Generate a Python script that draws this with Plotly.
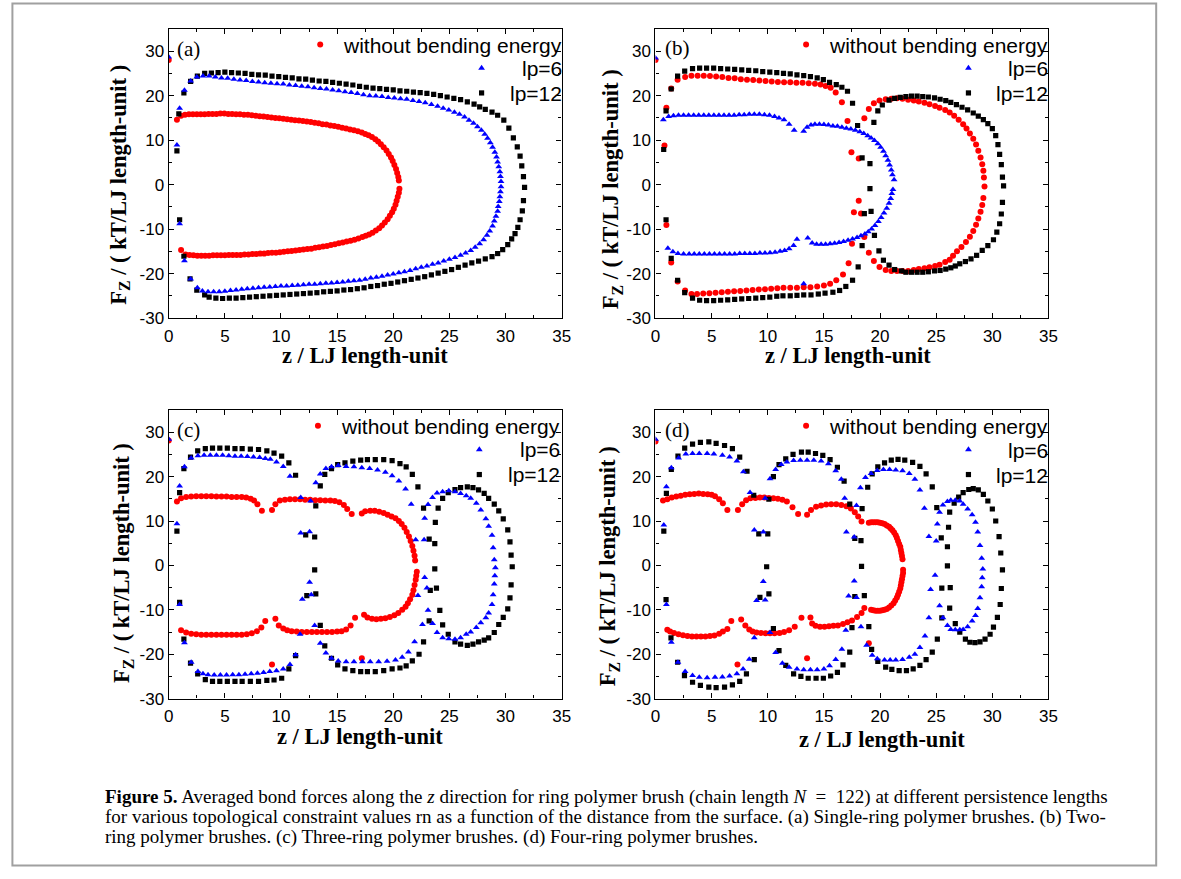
import plotly.graph_objects as go

# ---------------- data: (z, Fz) pairs ----------------
A_RED = [(0.0,28.0),(0.73,14.6),(1.1,15.5),(1.45,15.7),(1.8,15.8),(2.15,15.8),(2.5,15.8),(2.85,15.8),(3.2,15.8),(3.55,15.9),(3.9,15.9),(4.25,15.9),(4.6,16.0),(4.95,16.0),(5.3,15.9),(5.65,15.9),(6.0,15.8),(6.35,15.8),(6.7,15.7),(7.05,15.7),(7.4,15.6),(7.75,15.5),(8.1,15.4),(8.45,15.3),(8.8,15.2),(9.15,15.1),(9.5,15.0),(9.85,14.9),(10.2,14.8),(10.55,14.7),(10.9,14.6),(11.25,14.5),(11.6,14.4),(11.95,14.3),(12.3,14.2),(12.65,14.1),(13.0,13.9),(13.35,13.8),(13.7,13.6),(14.05,13.5),(14.4,13.3),(14.75,13.2),(15.1,13.0),(15.45,12.8),(15.8,12.6),(16.15,12.4),(16.5,12.2),(16.85,12.0),(17.2,11.7),(17.5,11.4),(17.8,11.1),(18.1,10.7),(18.4,10.2),(18.65,9.7),(18.9,9.1),(19.15,8.4),(19.4,7.7),(19.6,6.9),(19.8,6.1),(19.95,5.3),(20.1,4.4),(20.25,3.5),(20.35,2.6),(20.45,1.7),(20.5,0.9),
         (20.55,-0.9),(20.5,-1.8),(20.4,-2.7),(20.3,-3.6),(20.2,-4.5),(20.05,-5.4),(19.9,-6.2),(19.7,-7.0),(19.5,-7.8),(19.25,-8.5),(19.0,-9.2),(18.75,-9.8),(18.45,-10.3),(18.15,-10.8),(17.85,-11.2),(17.55,-11.5),(17.25,-11.8),(16.9,-12.1),(16.55,-12.4),(16.2,-12.6),(15.85,-12.8),(15.5,-13.0),(15.15,-13.2),(14.8,-13.4),(14.45,-13.6),(14.1,-13.8),(13.75,-13.9),(13.4,-14.1),(13.05,-14.2),(12.7,-14.4),(12.35,-14.5),(12.0,-14.6),(11.65,-14.7),(11.3,-14.8),(10.95,-14.9),(10.6,-15.0),(10.25,-15.1),(9.9,-15.2),(9.55,-15.3),(9.2,-15.3),(8.85,-15.4),(8.5,-15.5),(8.15,-15.5),(7.8,-15.6),(7.45,-15.6),(7.1,-15.7),(6.75,-15.7),(6.4,-15.8),(6.05,-15.8),(5.7,-15.8),(5.35,-15.8),(5.0,-15.9),(4.65,-15.9),(4.3,-15.9),(3.95,-15.9),(3.6,-16.0),(3.25,-16.0),(2.9,-16.0),(2.55,-16.0),(2.2,-15.9),(1.85,-15.8),(1.5,-15.7),(1.1,-14.7)]

A_BLUE = [(0.0,28.7),(0.73,8.9),(0.97,17.2),(1.4,21.2),(1.95,23.3),(2.5,24.2),(3.05,24.4),(3.6,24.4),(4.15,24.2),(4.7,24.0),(5.25,23.9),(5.8,23.7),(6.35,23.5),(6.9,23.4),(7.45,23.2),(8.0,23.1),(8.55,22.9),(9.1,22.8),(9.65,22.7),(10.2,22.6),(10.75,22.4),(11.3,22.3),(11.85,22.1),(12.4,22.0),(12.95,21.8),(13.5,21.6),(14.05,21.5),(14.6,21.3),(15.15,21.1),(15.7,20.9),(16.25,20.7),(16.8,20.5),(17.35,20.2),(17.9,20.0),(18.45,19.9),(19.0,19.8),(19.55,19.6),(20.1,19.5),(20.65,19.3),(21.2,19.2),(21.75,18.9),(22.3,18.7),(22.85,18.4),(23.4,18.0),(23.95,17.6),(24.45,17.2),(24.95,16.8),(25.45,16.3),(25.9,15.8),(26.35,15.2),(26.75,14.5),(27.15,13.8),(27.5,13.0),(27.85,12.2),(28.15,11.3),(28.4,10.4),(28.65,9.4),(28.85,8.4),(29.05,7.3),(29.2,6.2),(29.3,5.1),(29.4,4.0),(29.5,2.9),(29.55,1.8),(29.6,0.7),
          (29.6,-0.5),(29.55,-1.6),(29.5,-2.7),(29.45,-3.8),(29.35,-4.9),(29.3,-6.0),(29.15,-7.1),(29.0,-8.2),(28.85,-9.3),(28.6,-10.4),(28.35,-11.4),(28.05,-12.4),(27.7,-13.3),(27.3,-14.1),(26.9,-14.8),(26.45,-15.4),(26.0,-15.9),(25.5,-16.4),(25.0,-16.8),(24.5,-17.2),(24.0,-17.6),(23.5,-17.9),(23.0,-18.3),(22.5,-18.6),(22.0,-18.9),(21.5,-19.3),(21.0,-19.6),(20.5,-19.8),(20.0,-20.1),(19.5,-20.3),(19.0,-20.6),(18.5,-20.8),(18.0,-21.0),(17.5,-21.3),(17.0,-21.5),(16.5,-21.6),(16.0,-21.7),(15.5,-21.9),(15.0,-22.0),(14.5,-22.1),(14.0,-22.2),(13.5,-22.3),(13.0,-22.4),(12.5,-22.4),(12.0,-22.5),(11.5,-22.6),(11.0,-22.7),(10.5,-22.8),(10.0,-22.8),(9.5,-22.9),(9.0,-23.0),(8.5,-23.1),(8.0,-23.2),(7.5,-23.3),(7.0,-23.4),(6.5,-23.5),(6.0,-23.7),(5.5,-23.8),(5.0,-24.0),(4.5,-24.1),(4.0,-24.1),(3.5,-24.1),(3.0,-23.9),(2.55,-23.2),(1.95,-21.2),(1.4,-17.1),(0.97,-8.8)]

A_BLACK = [(0.73,7.6),(0.9,15.9),(1.35,20.6),(1.95,23.2),(2.55,24.4),(3.2,25.0),(3.8,25.1),(4.4,25.2),(5.0,25.3),(5.6,25.2),(6.2,25.1),(6.8,25.0),(7.4,24.8),(8.0,24.7),(8.6,24.6),(9.2,24.4),(9.8,24.3),(10.4,24.1),(11.0,24.0),(11.6,23.8),(12.2,23.7),(12.8,23.5),(13.4,23.3),(14.0,23.2),(14.6,23.0),(15.2,22.8),(15.8,22.6),(16.4,22.4),(17.0,22.1),(17.6,21.9),(18.2,21.7),(18.8,21.6),(19.4,21.4),(20.0,21.3),(20.6,21.1),(21.2,21.0),(21.8,20.8),(22.4,20.7),(23.0,20.5),(23.6,20.3),(24.2,20.0),(24.8,19.7),(25.4,19.4),(26.0,19.1),(26.6,18.6),(27.2,18.1),(27.7,17.5),(28.2,16.9),(28.8,16.3),(29.3,15.6),(29.85,14.5),(30.3,12.7),(30.7,10.5),(31.05,8.5),(31.3,6.4),(31.45,4.2),(31.6,1.8),
           (31.7,-0.6),(31.6,-3.6),(31.5,-5.9),(31.3,-7.9),(31.1,-9.6),(30.85,-11.0),(30.55,-12.2),(30.2,-13.5),(29.75,-14.6),(29.3,-15.5),(28.8,-16.2),(28.2,-16.7),(27.6,-17.2),(27.0,-17.6),(26.4,-18.1),(25.8,-18.6),(25.2,-19.1),(24.6,-19.5),(24.0,-19.9),(23.4,-20.3),(22.8,-20.7),(22.2,-21.0),(21.6,-21.3),(21.0,-21.6),(20.4,-21.9),(19.8,-22.2),(19.2,-22.4),(18.6,-22.7),(18.0,-22.9),(17.4,-23.2),(16.8,-23.4),(16.2,-23.6),(15.6,-23.7),(15.0,-23.9),(14.4,-24.0),(13.8,-24.1),(13.2,-24.3),(12.6,-24.4),(12.0,-24.5),(11.4,-24.6),(10.8,-24.7),(10.2,-24.8),(9.6,-24.9),(9.0,-25.0),(8.4,-25.1),(7.8,-25.2),(7.2,-25.3),(6.6,-25.4),(6.0,-25.5),(5.4,-25.5),(4.8,-25.6),(4.2,-25.5),(3.6,-25.3),(3.2,-24.8),(2.5,-23.7),(1.9,-21.2),(1.35,-16.1),(0.97,-7.9)]

B_RED = [(0.0,28.0),(0.8,8.8),(0.97,17.3),(1.4,21.6),(1.97,23.6),(2.64,24.2),(3.2,24.5),(3.75,24.5),(4.3,24.5),(4.85,24.4),(5.4,24.3),(5.95,24.2),(6.5,24.0),(7.05,23.9),(7.6,23.7),(8.15,23.6),(8.7,23.5),(9.25,23.4),(9.8,23.3),(10.35,23.2),(10.9,23.1),(11.45,23.0),(12.0,23.0),(12.55,22.9),(13.1,22.9),(13.65,22.8),(14.2,22.7),(14.7,22.5),(15.15,22.2),(15.6,21.8),(16.05,20.7),(16.6,18.5),(17.1,14.3),(17.45,7.3),(18.1,5.9),
         (18.1,-3.6),(17.67,-6.2),(18.3,-6.5),
         (18.6,14.9),(19.0,17.0),(19.45,18.3),(19.95,18.9),(20.5,19.2),(21.0,19.3),(21.5,19.4),(22.0,19.3),(22.5,19.1),(23.0,18.9),(23.45,18.7),(23.95,18.4),(24.4,18.1),(24.9,17.7),(25.3,17.3),(25.8,16.8),(26.2,16.2),(26.6,15.5),(27.0,14.6),(27.4,13.6),(27.7,12.6),(28.0,11.5),(28.3,10.3),(28.55,9.0),(28.75,7.6),(28.95,6.1),(29.1,4.6),(29.2,3.1),(29.25,1.6),(29.3,-0.4),
         (29.2,-3.0),(29.1,-4.6),(28.95,-6.1),(28.75,-7.6),(28.55,-9.0),(28.3,-10.4),(28.0,-11.7),(27.65,-12.9),(27.25,-14.0),(26.85,-15.0),(26.5,-16.0),(26.2,-16.9),(25.8,-17.4),(25.3,-18.0),(24.9,-18.3),(24.4,-18.6),(23.95,-18.8),(23.45,-19.0),(23.0,-19.2),(22.5,-19.4),(22.0,-19.4),(21.5,-19.4),(21.0,-19.4),(20.5,-19.2),(19.95,-18.5),(19.45,-17.2),(19.0,-15.3),(18.6,-11.8),
         (17.5,-13.3),(17.2,-17.7),(16.7,-20.2),(16.1,-21.5),(15.55,-22.3),(15.0,-22.7),(14.4,-22.9),(13.8,-23.1),(13.2,-23.1),(12.6,-23.2),(12.0,-23.2),(11.4,-23.2),(10.85,-23.3),(10.3,-23.4),(9.75,-23.5),(9.2,-23.6),(8.65,-23.7),(8.1,-23.8),(7.55,-23.9),(7.0,-24.0),(6.45,-24.1),(5.9,-24.2),(5.35,-24.3),(4.8,-24.4),(4.25,-24.5),(3.7,-24.6),(3.2,-24.6),(2.64,-23.8),(1.97,-21.8),(1.4,-17.5),(0.97,-9.1)]

B_BLUE = [(0.0,28.5),(0.7,14.6),(1.17,15.3),(1.6,15.5),(2.05,15.6),(2.5,15.6),(2.95,15.6),(3.4,15.6),(3.85,15.6),(4.3,15.6),(4.75,15.6),(5.2,15.6),(5.65,15.6),(6.1,15.6),(6.55,15.6),(7.0,15.6),(7.45,15.7),(7.9,15.7),(8.35,15.8),(8.8,15.8),(9.25,15.8),(9.7,15.7),(10.15,15.6),(10.6,15.3),(11.0,15.0),(11.45,14.6),(11.9,13.6),(12.35,12.2),
          (13.2,12.0),(13.5,12.9),(13.85,13.4),(14.2,13.6),(14.6,13.6),(15.0,13.5),(15.4,13.4),(15.8,13.2),(16.2,13.1),(16.6,12.9),(17.0,12.7),(17.4,12.5),(17.8,12.2),(18.2,11.9),(18.55,11.5),(18.9,11.0),(19.2,10.5),(19.5,9.9),(19.8,9.2),(20.05,8.4),(20.3,7.5),(20.5,6.5),(20.7,5.5),(20.85,4.4),(21.0,3.3),(21.1,2.2),(21.25,1.1),
          (21.15,-1.1),(21.05,-2.0),(20.95,-3.1),(20.8,-4.2),(20.6,-5.3),(20.35,-6.4),(20.1,-7.4),(19.85,-8.3),(19.55,-9.2),(19.25,-10.0),(18.95,-10.6),(18.65,-11.1),(18.3,-11.5),(17.95,-11.9),(17.55,-12.2),(17.15,-12.5),(16.75,-12.8),(16.35,-13.0),(15.95,-13.2),(15.55,-13.3),(15.15,-13.4),(14.75,-13.4),(14.35,-13.4),(13.95,-13.1),(13.56,-12.0),
          (13.2,-22.3),
          (12.6,-12.3),(12.3,-13.7),(11.9,-14.4),(11.5,-14.8),(11.1,-15.0),(10.65,-15.2),(10.2,-15.3),(9.75,-15.4),(9.3,-15.4),(8.85,-15.5),(8.4,-15.5),(7.95,-15.5),(7.5,-15.5),(7.05,-15.6),(6.6,-15.6),(6.15,-15.6),(5.7,-15.6),(5.25,-15.6),(4.8,-15.6),(4.35,-15.6),(3.9,-15.6),(3.45,-15.6),(3.0,-15.6),(2.5,-15.6),(2.0,-15.5),(1.55,-15.1),(1.1,-14.3)]

B_BLACK = [(0.73,7.9),(0.94,16.6),(1.4,21.5),(1.97,24.4),(2.6,25.5),(3.3,26.1),(3.93,26.2),(4.55,26.2),(5.18,26.2),(5.8,26.1),(6.43,26.0),(7.05,25.9),(7.68,25.8),(8.3,25.7),(8.93,25.6),(9.55,25.4),(10.18,25.3),(10.8,25.2),(11.4,25.0),(12.0,24.9),(12.6,24.7),(13.2,24.5),(13.8,24.3),(14.4,24.0),(14.95,23.6),(15.5,23.0),(16.1,22.5),(16.6,21.9),(17.1,21.0),(17.55,18.3),(18.0,13.3),(18.4,6.0),
           (19.1,4.7),(19.1,-0.9),(19.2,-6.0),(18.6,-6.5),
           (19.45,14.0),(19.8,16.6),(20.2,17.9),(20.8,19.0),(21.3,19.4),(21.8,19.6),(22.3,19.8),(22.8,19.9),(23.3,19.9),(23.8,19.8),(24.3,19.7),(24.85,19.5),(25.35,19.2),(25.85,18.9),(26.3,18.5),(26.8,18.0),(27.3,17.4),(27.8,16.8),(28.3,16.1),(28.75,15.4),(29.2,14.6),(29.6,13.7),(30.0,12.6),(30.3,11.0),(30.5,9.0),(30.65,6.8),(30.8,4.5),(30.9,1.7),(31.0,-0.3),
           (30.9,-4.0),(30.8,-6.6),(30.65,-8.8),(30.4,-10.7),(30.1,-12.4),(29.6,-13.7),(29.1,-14.8),(28.6,-15.9),(28.1,-16.7),(27.6,-17.3),(27.1,-17.8),(26.7,-18.3),(26.3,-18.7),(25.85,-19.0),(25.35,-19.3),(24.85,-19.4),(24.3,-19.6),(23.8,-19.7),(23.3,-19.7),(22.8,-19.7),(22.3,-19.7),(21.9,-19.4),(21.3,-19.1),(20.8,-18.1),(20.3,-17.0),(19.9,-14.9),(19.5,-11.4),
           (18.4,-13.7),(18.05,-18.5),(17.55,-21.5),(16.95,-22.9),(16.4,-23.8),(15.8,-24.2),(15.1,-24.4),(14.5,-24.6),(13.85,-24.8),(13.2,-24.8),(12.6,-24.9),(12.0,-25.0),(11.35,-25.0),(10.8,-25.1),(10.18,-25.3),(9.55,-25.4),(8.93,-25.5),(8.3,-25.6),(7.68,-25.7),(7.05,-25.8),(6.43,-25.9),(5.8,-26.0),(5.18,-26.1),(4.55,-26.1),(3.93,-26.0),(3.3,-25.5),(2.6,-24.3),(1.97,-21.5),(1.4,-16.6),(0.94,-7.9)]

C_RED = [(0.0,28.1),(0.73,14.4),(1.1,15.1),(1.55,15.4),(2.0,15.5),(2.45,15.6),(2.9,15.6),(3.35,15.6),(3.8,15.6),(4.25,15.5),(4.7,15.5),(5.15,15.5),(5.6,15.4),(6.05,15.4),(6.5,15.4),(6.9,15.3),(7.3,15.0),(7.6,14.6),(7.9,13.8),(8.3,12.3),
         (9.2,12.5),(9.5,13.8),(9.9,14.6),(10.35,14.8),(10.8,14.9),(11.25,14.9),(11.7,14.9),(12.15,14.8),(12.6,14.8),(13.05,14.7),(13.5,14.7),(13.95,14.6),(14.4,14.6),(14.8,14.5),(15.2,14.2),(15.6,13.6),(15.9,12.7),(16.3,11.6),
         (17.2,11.7),(17.5,12.2),(17.95,12.3),(18.35,12.3),(18.75,12.1),(19.15,11.8),(19.5,11.4),(19.85,11.0),(20.2,10.6),(20.5,10.0),(20.75,9.3),(21.0,8.5),(21.2,7.5),(21.4,6.5),(21.55,5.5),(21.7,4.4),(21.8,3.3),(21.9,2.2),(21.95,1.1),
         (22.1,-1.4),(22.05,-2.3),(22.0,-3.2),(21.9,-4.4),(21.8,-5.6),(21.7,-6.6),(21.5,-7.6),(21.3,-8.5),(21.1,-9.3),(20.8,-10.0),(20.45,-10.7),(20.1,-11.2),(19.7,-11.6),(19.3,-11.9),(18.9,-12.0),(18.5,-12.1),(18.1,-12.0),(17.7,-11.7),(17.4,-11.1),
         (17.2,-20.9),
         (16.6,-11.8),(16.2,-13.5),(15.8,-14.4),(15.4,-14.8),(15.0,-14.9),(14.55,-15.0),(14.1,-15.0),(13.65,-15.0),(13.2,-15.0),(12.75,-15.0),(12.3,-15.0),(11.85,-15.0),(11.4,-14.9),(10.95,-14.8),(10.55,-14.6),(10.2,-14.2),(9.8,-13.5),(9.5,-12.0),
         (9.2,-22.3),
         (8.6,-12.5),(8.25,-14.0),(7.85,-14.8),(7.4,-15.3),(6.95,-15.5),(6.5,-15.6),(6.05,-15.6),(5.6,-15.6),(5.15,-15.6),(4.7,-15.6),(4.25,-15.6),(3.8,-15.6),(3.35,-15.6),(2.9,-15.6),(2.45,-15.5),(2.0,-15.4),(1.55,-15.1),(1.1,-14.6)]

C_BLUE = [(0.0,28.4),(0.73,9.4),(0.97,17.9),(1.4,22.2),(2.0,24.2),(2.6,24.7),(3.15,24.8),(3.7,24.8),(4.25,24.8),(4.8,24.8),(5.35,24.7),(5.9,24.6),(6.45,24.6),(7.0,24.5),(7.55,24.4),(8.1,24.3),(8.6,24.1),(9.05,23.9),(9.6,23.3),(10.2,22.3),(10.8,20.1),(11.76,15.3),
          (11.76,7.3),(12.55,7.6),(12.55,-3.8),(12.7,-6.6),(11.9,-7.6),
          (12.64,14.5),(13.1,18.6),(13.5,20.6),(14.0,21.8),(14.5,22.2),(15.1,22.5),(15.8,22.3),(16.5,22.2),(17.2,22.0),(17.9,21.8),(18.6,21.5),(19.3,21.0),(19.9,20.2),(20.5,19.0),(21.1,17.2),(21.6,13.8),(22.0,5.8),
          (22.75,5.8),(22.8,-2.7),(23.0,-5.1),(22.2,-6.8),
          (22.8,10.6),(23.1,13.7),(23.5,15.3),(23.9,16.3),(24.4,16.6),(24.95,16.8),(25.5,16.6),(26.0,16.2),(26.5,15.7),(26.9,15.1),(27.4,14.0),(27.8,12.5),(28.25,10.5),(28.5,8.8),(28.8,6.8),(28.9,4.0),(29.0,1.3),(29.1,-0.5),
          (29.05,-2.3),(29.0,-4.2),(28.9,-6.6),(28.8,-8.8),(28.5,-10.7),(28.25,-11.8),(27.8,-12.9),(27.4,-14.0),(26.9,-15.0),(26.5,-15.5),(26.0,-16.3),(25.5,-16.6),(24.95,-16.5),(24.4,-16.3),(23.9,-15.1),(23.5,-13.1),(23.1,-10.1),
          (22.6,-13.3),(21.9,-17.2),(21.35,-19.5),(20.8,-20.7),(20.2,-21.3),(19.45,-21.6),(18.7,-21.7),(17.95,-21.7),(17.25,-21.7),(16.5,-21.7),(15.8,-21.7),(15.1,-21.5),(14.5,-20.9),(14.0,-19.7),(13.5,-17.5),(13.0,-13.5),
          (11.7,-15.5),(11.3,-20.1),(10.8,-22.3),(10.2,-23.3),(9.6,-23.7),(9.0,-23.9),(8.45,-24.1),(7.9,-24.3),(7.35,-24.4),(6.8,-24.5),(6.25,-24.6),(5.7,-24.6),(5.15,-24.7),(4.6,-24.7),(4.05,-24.7),(3.5,-24.6),(3.05,-24.4),(2.6,-23.9),(2.0,-21.8),(1.4,-17.4),(0.97,-8.8)]

C_BLACK = [(0.73,7.7),(0.97,16.4),(1.35,21.8),(1.94,24.4),(2.58,25.8),(3.26,26.3),(3.9,26.4),(4.55,26.4),(5.22,26.4),(5.9,26.3),(6.54,26.3),(7.27,26.2),(8.0,26.1),(8.74,25.8),(9.38,25.3),(10.06,24.6),(10.7,23.1),(11.3,20.3),
           (12.2,6.9),(13.0,6.4),(13.0,-1.0),(13.1,-6.4),(12.3,-6.8),
           (13.1,13.4),(13.5,17.9),(13.9,20.5),(14.5,21.8),(15.05,22.7),(15.7,23.1),(16.4,23.5),(17.1,23.7),(17.7,23.8),(18.4,23.8),(19.15,23.8),(19.9,23.6),(20.6,22.9),(21.15,22.2),(21.7,20.5),(22.2,17.7),(22.7,12.9),(23.2,5.9),
           (23.7,4.9),(23.7,-0.8),(23.85,-5.1),(23.3,-5.6),
           (23.75,9.7),(24.0,12.9),(24.4,15.1),(24.9,16.4),(25.5,17.1),(26.0,17.5),(26.6,17.7),(27.1,17.5),(27.6,17.0),(28.1,16.2),(28.5,15.1),(29.0,13.8),(29.4,12.3),(29.8,10.5),(30.2,8.0),(30.4,5.3),(30.5,2.3),(30.6,-0.3),
           (30.5,-4.4),(30.4,-7.3),(30.2,-9.8),(29.8,-11.7),(29.4,-13.3),(29.0,-15.1),(28.5,-16.3),(28.1,-16.8),(27.6,-17.2),(27.1,-17.7),(26.6,-18.0),(26.0,-17.7),(25.5,-17.2),(24.9,-15.5),(24.4,-13.4),(24.15,-10.1),
           (23.2,-12.5),(22.7,-17.2),(22.3,-20.0),(21.7,-21.5),(21.15,-22.6),(20.6,-23.1),(19.9,-23.3),(19.15,-23.7),(18.4,-23.9),(17.7,-23.9),(17.1,-23.9),(16.4,-23.7),(15.7,-23.3),(15.05,-22.4),(14.5,-20.9),(13.9,-18.1),(13.5,-13.5),
           (11.3,-20.3),(10.7,-23.3),(10.06,-25.4),(9.38,-25.8),(8.74,-25.9),(8.0,-26.1),(7.27,-26.1),(6.54,-26.1),(5.9,-26.1),(5.22,-26.1),(4.55,-26.1),(3.9,-26.1),(3.26,-25.7),(2.58,-24.4),(1.94,-22.0),(1.35,-16.6),(0.97,-8.3)]

D_RED = [(0.0,27.9),(0.67,14.6),(1.05,14.9),(1.45,15.3),(1.85,15.5),(2.25,15.7),(2.65,15.9),(3.05,16.0),(3.45,16.1),(3.85,16.2),(4.25,16.1),(4.65,16.0),(5.0,15.9),(5.3,15.6),(5.67,14.9),(6.0,14.0),(6.4,12.5),
         (7.34,12.5),(7.72,13.8),(8.07,14.7),(8.45,15.1),(8.9,15.2),(9.3,15.3),(9.7,15.3),(10.1,15.2),(10.5,15.1),(10.9,15.0),(11.3,14.8),(11.7,14.4),(12.2,13.1),(12.7,11.6),
         (13.5,11.4),(13.85,12.5),(14.3,13.2),(14.75,13.5),(15.2,13.7),(15.65,13.8),(16.1,13.8),(16.55,13.6),(17.0,13.3),(17.4,12.8),(17.75,12.0),(18.05,11.0),(18.35,9.9),
         (19.0,9.6),(19.2,9.7),(19.4,9.7),(19.6,9.7),(19.8,9.7),(20.0,9.6),(20.2,9.5),(20.4,9.3),(20.6,9.0),(20.8,8.7),(20.95,8.3),(21.1,7.9),(21.25,7.4),(21.4,6.8),(21.5,6.2),(21.6,5.5),(21.7,4.8),(21.8,4.2),(21.85,3.5),(21.9,2.8),(21.95,2.1),(22.0,1.4),
         (22.05,-1.0),(22.05,-1.7),(22.0,-2.4),(21.95,-3.1),(21.9,-3.8),(21.85,-4.5),(21.8,-5.2),(21.7,-5.9),(21.6,-6.6),(21.5,-7.2),(21.35,-7.9),(21.2,-8.5),(21.0,-9.0),(20.8,-9.5),(20.6,-9.8),(20.4,-10.0),(20.2,-10.1),(20.0,-10.2),(19.8,-10.2),(19.6,-10.2),(19.4,-10.1),(19.2,-10.0),
         (19.0,-17.5),
         (18.6,-9.6),(18.35,-10.7),(17.95,-11.6),(17.5,-12.4),(17.1,-12.8),(16.7,-13.2),(16.25,-13.5),(15.85,-13.6),(15.45,-13.7),(15.05,-13.8),(14.65,-13.8),(14.25,-13.6),(13.95,-13.1),(13.8,-11.7),
         (13.5,-20.9),
         (13.0,-11.8),(12.4,-13.8),(11.9,-14.6),(11.45,-15.0),(11.05,-15.2),(10.6,-15.3),(10.2,-15.3),(9.8,-15.3),(9.4,-15.2),(9.0,-15.1),(8.65,-14.9),(8.35,-14.4),(8.0,-13.5),(7.63,-12.2),
         (7.3,-22.3),
         (6.75,-12.5),(6.4,-14.3),(6.0,-14.9),(5.67,-15.4),(5.25,-15.8),(4.85,-15.9),(4.45,-16.0),(4.05,-16.0),(3.65,-16.0),(3.25,-16.0),(2.85,-15.9),(2.45,-15.7),(2.05,-15.5),(1.65,-15.2),(1.3,-14.9),(1.05,-14.5)]

D_BLUE = [(0.0,28.4),(0.74,9.1),(0.97,17.7),(1.41,22.0),(2.06,24.2),(2.7,25.1),(3.3,25.2),(3.9,25.2),(4.6,25.2),(5.2,25.1),(5.96,24.8),(6.6,24.4),(7.25,23.5),(7.83,21.1),(8.42,16.4),
          (8.8,8.0),(9.6,7.5),(9.6,-3.6),(9.0,-7.9),(9.77,-7.8),
          (9.77,15.1),(10.2,19.5),(10.7,21.6),(11.2,22.7),(11.7,23.3),(12.3,23.6),(12.9,23.7),(13.5,23.7),(14.1,23.7),(14.75,23.5),(15.4,22.9),(16.05,21.3),(16.55,19.4),(16.85,15.1),
          (17.0,7.5),(17.7,6.4),(17.7,-3.5),(17.2,-6.9),(17.9,-7.2),
          (17.9,13.5),(18.25,17.5),(18.7,19.8),(19.2,20.7),(19.75,21.4),(20.3,21.6),(20.85,21.6),(21.4,21.5),(22.0,21.3),(22.6,20.7),(23.1,19.4),(23.55,17.0),(23.95,12.9),(24.35,6.5),
          (25.0,5.5),(24.9,-2.2),(24.5,-5.4),
          (25.1,9.3),(25.3,12.0),(25.6,13.6),(26.0,14.4),(26.3,14.7),(26.7,14.7),(27.1,14.5),(27.4,13.8),(27.8,12.7),(28.2,11.4),(28.5,9.7),(28.7,7.5),(28.9,4.5),(29.05,1.6),(29.15,-0.8),
          (29.1,-2.8),(29.05,-4.8),(28.9,-7.3),(28.7,-9.7),(28.5,-11.3),(28.2,-12.5),(27.8,-13.8),(27.4,-14.4),(27.1,-14.5),(26.7,-14.5),(26.3,-14.4),(26.0,-13.5),(25.6,-11.8),(25.3,-9.1),
          (24.35,-11.8),(24.0,-15.9),(23.55,-18.5),(23.1,-20.0),(22.6,-20.7),(22.0,-21.2),(21.4,-21.3),(20.9,-21.3),(20.4,-21.3),(19.75,-21.0),(19.3,-20.2),(18.8,-18.0),(18.3,-13.8),
          (16.95,-14.6),(16.6,-18.9),(16.05,-21.2),(15.5,-22.6),(15.0,-23.3),(14.4,-23.5),(13.8,-23.5),(13.2,-23.5),(12.6,-23.3),(11.9,-22.9),(11.3,-22.0),(10.7,-19.6),(10.2,-15.1),
          (8.8,-16.3),(8.35,-21.1),(7.8,-23.3),(7.25,-24.4),(6.6,-24.9),(5.96,-25.1),(5.3,-25.2),(4.6,-25.3),(3.9,-25.2),(3.3,-24.8),(2.64,-23.9),(2.0,-21.8),(1.41,-17.3),(0.97,-8.8)]

D_BLACK = [(0.74,7.7),(0.97,16.2),(1.41,21.6),(2.0,24.6),(2.6,26.4),(3.3,27.3),(4.0,27.7),(4.75,27.8),(5.4,27.5),(6.15,27.0),(6.85,26.3),(7.5,24.4),(8.15,21.2),(8.75,15.8),
           (9.2,7.1),(10.0,7.1),(9.9,-0.3),(10.1,-6.4),(9.3,-7.2),
           (10.1,14.9),(10.5,20.0),(11.0,22.7),(11.6,24.0),(12.25,25.0),(13.0,25.5),(13.6,25.5),(14.25,25.2),(14.9,24.8),(15.55,23.8),(16.2,22.1),(16.8,19.0),(17.3,13.8),
           (17.75,6.1),(18.3,5.6),(18.35,-0.2),(18.6,-6.8),(17.75,-7.0),
           (18.4,12.8),(18.9,17.6),(19.3,20.6),(19.8,22.2),(20.4,23.1),(21.0,23.7),(21.6,23.9),(22.2,23.7),(22.9,23.2),(23.55,22.3),(24.1,20.6),(24.65,17.7),(25.05,13.0),(25.45,6.2),
           (26.0,4.2),(26.0,-0.1),(26.25,-5.0),(25.5,-5.1),
           (26.1,8.6),(26.2,12.0),(26.6,14.0),(27.0,15.4),(27.4,16.4),(27.9,17.1),(28.3,17.3),(28.75,17.0),(29.2,16.0),(29.6,14.5),(30.0,12.7),(30.3,10.0),(30.6,6.5),(30.75,2.8),(30.9,-1.0),
           (30.8,-5.2),(30.7,-8.8),(30.45,-11.7),(30.1,-13.9),(29.8,-15.5),(29.35,-16.6),(28.9,-17.2),(28.45,-17.4),(28.0,-17.3),(27.6,-16.6),(27.1,-15.0),(26.7,-13.1),(26.2,-9.6),
           (25.5,-11.8),(25.1,-16.6),(24.65,-19.5),(24.1,-21.2),(23.55,-22.5),(22.95,-23.3),(22.35,-23.7),(21.7,-23.7),(21.05,-23.4),(20.5,-22.9),(19.8,-21.6),(19.25,-18.9),(19.0,-13.8),
           (17.5,-14.0),(17.3,-19.5),(16.7,-22.4),(16.2,-24.1),(15.6,-24.9),(14.95,-25.4),(14.3,-25.4),(13.6,-25.4),(12.95,-25.0),(12.3,-24.4),(11.6,-22.5),(11.0,-19.2),(10.5,-14.2),
           (8.8,-21.2),(8.1,-24.4),(7.5,-26.1),(6.85,-26.9),(6.15,-27.4),(5.4,-27.5),(4.75,-27.4),(4.0,-27.0),(3.3,-26.3),(2.58,-24.8),(1.97,-21.8),(1.38,-16.3),(0.94,-7.7)]

X_TICKS = [0, 5, 10, 15, 20, 25, 30, 35]
Y_TICKS = [-30, -20, -10, 0, 10, 20, 30]
SERIES_NAMES = ["without bending energy", "lp=6", "lp=12"]
PANEL_LABELS = ["(a)", "(b)", "(c)", "(d)"]
CAPTION = [
    "<b>Figure 5.</b> Averaged bond forces along the <i>z</i> direction for ring polymer brush (chain length <i>N</i>\u00a0\u00a0=\u00a0\u00a0122) at different persistence lengths",
    "for various topological constraint values rn as a function of the distance from the surface. (a) Single-ring polymer brushes. (b) Two-",
    "ring polymer brushes. (c) Three-ring polymer brushes. (d) Four-ring polymer brushes.",
]

# ---------------- layout helpers (pixels -> paper) ----------------
W, H = 1181, 879
def PX(v): return v / W
def PY(v): return 1 - v / H

RED, BLUE, BLACK = "#ff0000", "#0000ff", "#000000"
SANS = "Liberation Sans, Arial, sans-serif"
SERIF = "Liberation Serif, Times New Roman, serif"

# panel geometry in pixels: left, right, top, bottom
PANELS = [
    dict(data=(A_RED, A_BLUE, A_BLACK), box=(165.7, 563.3, 29.3, 321.7), xt=(364.5, 360), yt=(115.5, 186.7),
         leg_right=565.5, leg_rows=(46.3, 69.2, 94.2), mk=(319, 482.3), mky=(45, 68.5, 94), lab=(172.5, 50)),
    dict(data=(B_RED, B_BLUE, B_BLACK), box=(658.3, 1056.0, 29.3, 321.7), xt=(853, 360), yt=(614, 191.7),
         leg_right=1058, leg_rows=(46.3, 69.2, 94.2), mk=(810.7, 975), mky=(45, 68.5, 94), lab=(666, 49)),
    dict(data=(C_RED, C_BLUE, C_BLACK), box=(165.7, 563.3, 414.7, 706.7), xt=(359, 745), yt=(119, 570),
         leg_right=563.3, leg_rows=(431.3, 454.5, 480), mk=(316.7, 480), mky=(430.7, 454.3, 480), lab=(172.5, 435)),
    dict(data=(D_RED, D_BLUE, D_BLACK), box=(658.3, 1056.0, 414.7, 706.7), xt=(887.5, 748), yt=(612, 573),
         leg_right=1057.3, leg_rows=(431.7, 455.5, 481), mk=(810.7, 975), mky=(430.7, 454.3, 480), lab=(666, 435)),
]

fig = go.Figure()
annotations = []
shapes = []

for i, p in enumerate(PANELS):
    n = "" if i == 0 else str(i + 1)
    red, blue, black = p["data"]
    for pts, color, sym, size in [(red, RED, "circle", 6), (black, BLACK, "square", 5.2), (blue, BLUE, "triangle-up", 6)]:
        fig.add_trace(go.Scatter(
            x=[q[0] for q in pts], y=[q[1] for q in pts], mode="markers",
            marker=dict(color=color, symbol=sym, size=size, line=dict(width=0)),
            xaxis="x" + n, yaxis="y" + n, showlegend=False, hoverinfo="skip"))

    l, r, t, b = p["box"]
    axis_common = dict(showline=True, linecolor="black", linewidth=1.4, mirror="ticks",
                       ticks="inside", ticklen=5, tickwidth=1.2, tickcolor="black",
                       showgrid=False, zeroline=False,
                       tickfont=dict(family=SANS, size=17, color="black"))
    fig.update_layout(**{
        "xaxis" + n: dict(domain=[PX(l), PX(r)], anchor="y" + n, range=[0, 35],
                          tickvals=X_TICKS, ticktext=[str(v) for v in X_TICKS], ticklabelstandoff=2,
                          minor=dict(ticks="inside", dtick=2.5, tick0=0, ticklen=3, tickwidth=1, tickcolor="black"),
                          **axis_common),
        "yaxis" + n: dict(domain=[PY(b), PY(t)], anchor="x" + n, range=[-30, 35],
                          tickvals=Y_TICKS, ticktext=[str(v) for v in Y_TICKS],
                          minor=dict(ticks="inside", dtick=5, tick0=0, ticklen=3, tickwidth=1, tickcolor="black"),
                          **axis_common),
    })

    # axis titles
    annotations.append(dict(x=PX(p["xt"][0]), y=PY(p["xt"][1]), xref="paper", yref="paper",
                            text="<b>z / LJ length-unit</b>", showarrow=False, xanchor="center", yanchor="middle",
                            font=dict(family=SERIF, size=22.5, color="black")))
    annotations.append(dict(x=PX(p["yt"][0]), y=PY(p["yt"][1]), xref="paper", yref="paper",
                            text="<b>F<sub>Z</sub> / ( kT/LJ length-unit )</b>", showarrow=False, textangle=-90,
                            xanchor="center", yanchor="middle",
                            font=dict(family=SERIF, size=22.5, color="black")))
    # panel label
    annotations.append(dict(x=PX(p["lab"][0]), y=PY(p["lab"][1]), xref="paper", yref="paper",
                            text=PANEL_LABELS[i], showarrow=False, xanchor="left", yanchor="middle",
                            font=dict(family=SERIF, size=21, color="black")))
    # legend texts (right aligned) and markers
    for k, name in enumerate(SERIES_NAMES):
        annotations.append(dict(x=PX(p["leg_right"]), y=PY(p["leg_rows"][k]), xref="paper", yref="paper",
                                text=name, showarrow=False, xanchor="right", yanchor="middle",
                                font=dict(family=SANS, size=21, color="black")))
    mx_red, mx_other = p["mk"]
    my = p["mky"]
    shapes.append(dict(type="circle", xref="paper", yref="paper", xsizemode="pixel", ysizemode="pixel",
                       xanchor=PX(mx_red), yanchor=PY(my[0]), x0=-3, x1=3, y0=-3, y1=3,
                       fillcolor=RED, line=dict(width=0)))
    shapes.append(dict(type="path", xref="paper", yref="paper", xsizemode="pixel", ysizemode="pixel",
                       xanchor=PX(mx_other), yanchor=PY(my[1]), path="M -3.4 -2 L 3.4 -2 L 0 3 Z",
                       fillcolor=BLUE, line=dict(width=0)))
    shapes.append(dict(type="rect", xref="paper", yref="paper", xsizemode="pixel", ysizemode="pixel",
                       xanchor=PX(mx_other), yanchor=PY(my[2]), x0=-2.6, x1=2.6, y0=-2.6, y1=2.6,
                       fillcolor=BLACK, line=dict(width=0)))

# caption
for k, line in enumerate(CAPTION):
    annotations.append(dict(x=PX(99), y=PY([806, 826.5, 847][k]), xref="paper", yref="paper",
                            text=line, showarrow=False, xanchor="left", yanchor="middle",
                            font=dict(family=SERIF, size=19, color="black")))

# outer frame
shapes.append(dict(type="rect", xref="paper", yref="paper", x0=PX(7.5), x1=PX(1165), y0=PY(875.5), y1=PY(3.5),
                   line=dict(color="#a0a0a0", width=2), fillcolor="rgba(0,0,0,0)", layer="below"))

fig.update_layout(width=W, height=H, autosize=False, margin=dict(l=0, r=0, t=0, b=0),
                  paper_bgcolor="white", plot_bgcolor="white", showlegend=False,
                  annotations=annotations, shapes=shapes)

fig.write_html("out.html")
